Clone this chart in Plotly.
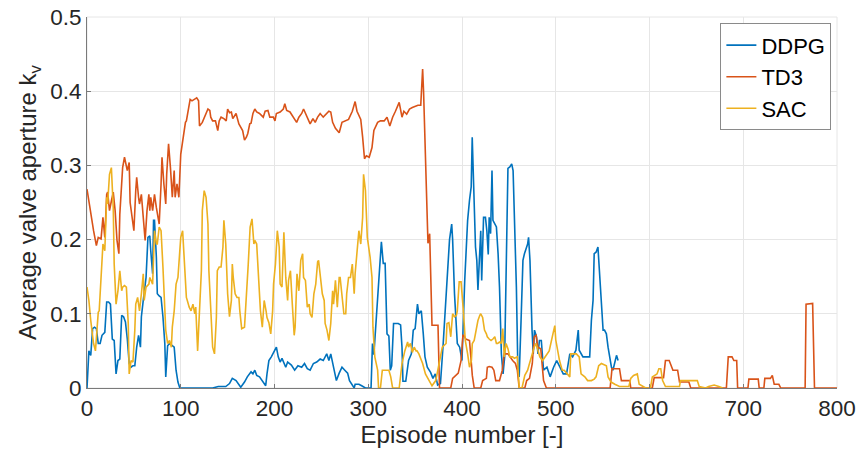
import plotly.graph_objects as go

# ---------------- data ----------------
td3_ep = [0,3,5,7,10,12,15,17,19,21,22,24,26,28,30,32,34,35,38,40,43,45,46,48,50,52,53,55,56,58,60,62,64,66,67,68,70,72,74,77,79,80,82,84,85,87,89,91,93,94,96,98,
          100,103,105,106,108,110,112,115,117,119,120,123,125,129,131,132,134,137,139.5,141,143,146,148.5,150,152,154,155.5,157,159,162,164.6,166,168,170,171.5,173.6,175,177,179,181,184,188,190,193,195,198.8,
          200.5,202,206,209.4,211,213,216.5,220,223.6,226,229,231,234.5,238,241,243.4,246,248.7,252,255.7,258,260,262,265,269,272,276,279,283,286,288,292,294,296,298,
          301,304,306,310,313,317,320,323,326,329,333,336,338,341,344,347,350,353,356,358,359,361,363.7,365.5,368,374.4,376,388,390,396,399,
          401,402,404,408,410,411,413,420,422,426,427,429,432,434,436,440,443,445,449,452,454,457,459,461,467,469,472,475,477,479,481,484,487,490,
          536,558,560,568,570,579,580,603,605,615,617,621,625,630,632,642,644,682,684,688,690,693,694,705,706,716,717,722,723,729,731,733,738,740,766,767,774,776,800]
td3_kv = [0.268,0.243,0.23,0.212,0.192,0.203,0.201,0.23,0.203,0.261,0.264,0.239,0.252,0.264,0.239,0.199,0.181,0.234,0.297,0.311,0.293,0.304,0.25,0.23,0.212,0.266,0.284,0.257,0.248,0.261,0.23,0.199,0.239,0.261,0.239,0.257,0.239,0.261,0.243,0.221,0.275,0.311,0.275,0.248,0.288,0.329,0.297,0.257,0.293,0.257,0.275,0.257,
          0.315,0.342,0.358,0.36,0.373,0.389,0.387,0.389,0.391,0.387,0.353,0.358,0.365,0.376,0.374,0.365,0.36,0.36,0.347,0.36,0.365,0.363,0.36,0.376,0.371,0.372,0.363,0.366,0.37,0.356,0.349,0.347,0.334,0.338,0.343,0.356,0.357,0.37,0.376,0.372,0.37,0.365,0.373,0.374,0.365,0.365,
          0.36,0.37,0.372,0.376,0.383,0.374,0.372,0.365,0.358,0.365,0.37,0.376,0.365,0.356,0.363,0.358,0.365,0.37,0.365,0.37,0.373,0.372,0.358,0.35,0.344,0.358,0.36,0.362,0.373,0.386,0.373,0.362,0.338,0.309,0.313,
          0.311,0.324,0.347,0.358,0.36,0.36,0.365,0.353,0.365,0.373,0.385,0.365,0.373,0.369,0.376,0.378,0.38,0.381,0.381,0.43,0.40,0.306,0.195,0.208,0.0845,0.0845,0.0,0.0,0.013,0.02,0.037,
          0.071,0.071,0.066,0.064,0.033,0.017,0.0,0.0,0.01,0.013,0.028,0.029,0.028,0.024,0.01,0.01,0.024,0.046,0.046,0.04,0.037,0.033,0.024,0.0,0.0,0.01,0.013,0.033,0.069,0.071,0.055,0.053,0.01,0.0,
          0.0,0.0,0.026,0.026,0.01,0.01,0.0,0.0,0.014,0.014,0.037,0.037,0.024,0.024,0.008,0.008,0.0,0.0,0.042,0.042,0.037,0.037,0.0,0.0,0.012,0.012,0.0,0.0,0.013,0.013,0.017,0.005,0.005,0.0,0.0,0.113,0.114,0.0,0.0]

ddpg_ep = [0,2,4,6,8,10,12,14,16,19,21,23,25,27,29,31,33,35,37,39,41,43,45,47,49,51,53,55,57,58,60,62,63,65,67,68,70,71,72,74,75,77,79,81,83,84,85,86,88,91,93,95,97,99,
           134,140,148,152,155,159,164,168,171,175,177,179,181,184,188,190.6,192,194,196.6,200,202,204,206,208,212,214,218,221.5,225,229,232,235,238,241.5,245,248.7,252,255.7,258,260,263,266,269,272,275,278,280,283,285,286,290,293,297,
           303,304.5,306,309,312,314,316,318,320,322,323.5,325,327,332,334.5,336,337,340,343,346,348,350,352.5,354,356.6,358.7,360.5,363,366.5,369,371.5,374,377,379.7,382,384,386.7,389,390,392,394,395,397.5,
           400,402.9,404.6,406,408,409.8,410.9,412,414.4,415.8,417,418.5,420,421,423,425,426.5,428,429,430.5,432,433,435,436.7,438.5,440,442,443.8,445.5,447.3,449,451,453,454.5,456,458,459.6,461,463,465,466.6,468,470,471,472.5,474.7,476,477.3,479.5,481,482.6,484.6,487,490.6,494,497.7,
           501,504.5,508,511.5,515,518,521.5,524,525,529,532,536.2,538,539.8,541,543,545,547,549,550.5,552,554,555.8,557.6,559.4,561,563,564.8,566.5]
ddpg_kv = [0.0,0.05,0.044,0.08,0.082,0.08,0.06,0.06,0.071,0.075,0.116,0.116,0.113,0.066,0.064,0.019,0.037,0.039,0.098,0.096,0.089,0.066,0.033,0.028,0.03,0.03,0.055,0.071,0.055,0.096,0.118,0.136,0.149,0.203,0.205,0.185,0.154,0.226,0.226,0.176,0.127,0.124,0.122,0.096,0.06,0.015,0.033,0.057,0.06,0.057,0.055,0.024,0.008,0.0,
           0.0,0.002,0.002,0.006,0.013,0.01,0.001,0.008,0.015,0.022,0.019,0.024,0.017,0.015,0.008,0.003,0.019,0.037,0.042,0.051,0.055,0.042,0.035,0.04,0.028,0.035,0.031,0.024,0.03,0.028,0.033,0.026,0.024,0.033,0.035,0.039,0.037,0.046,0.037,0.046,0.028,0.01,0.02,0.028,0.024,0.02,0.01,0.004,0.0,0.005,0.005,0.003,0.0,
           0.0,0.06,0.045,0.109,0.159,0.197,0.168,0.168,0.073,0.07,0.024,0.03,0.087,0.087,0.085,0.055,0.009,0.009,0.037,0.046,0.078,0.08,0.113,0.1,0.104,0.073,0.042,0.028,0.021,0.013,0.019,0.004,0.006,0.055,0.1,0.132,0.2,0.221,0.2,0.127,0.078,0.06,0.055,
           0.037,0.145,0.195,0.226,0.253,0.271,0.338,0.28,0.19,0.172,0.132,0.172,0.212,0.145,0.23,0.23,0.212,0.18,0.23,0.208,0.293,0.226,0.221,0.217,0.181,0.136,0.046,0.019,0.042,0.181,0.296,0.298,0.302,0.293,0.226,0.136,0.024,0.015,0.091,0.172,0.181,0.186,0.194,0.203,0.172,0.078,0.046,0.078,0.069,0.046,0.064,0.064,0.024,0.028,0.015,0.028,
           0.037,0.028,0.019,0.019,0.046,0.042,0.051,0.078,0.051,0.042,0.042,0.042,0.091,0.118,0.181,0.183,0.19,0.15,0.12,0.078,0.078,0.073,0.055,0.042,0.028,0.024,0.037,0.044,0.037]

sac_ep = [0,2,4,5,7,9,11,12,13,15,17,19,21,22,24,26,28,29,31,33,35,37,38,40,42,44,45,47,49,51,52,54,56,58,60,61,63,66,67,70,72,74,75,77,79,81,83,84,86,88,90,91,93,95,97,99,
          100,102,104,106,107,109,111,113,115,116,118,120,122,123,125,127,129,130,132,134,136,138,139,141,143,145,146,148,150,152,154,155,156,158,160,162,163,165,168,170,172,174,176,178,179,181,183,185,187,189,191,192,194,196,198,199,
          201,203,205,206,208,210,212,214,215,217,219,221,222,224,226,228,230,231,233,235,237,238,240,242,244,246,247,249,251,253,254,256,258,260,262,263,265,267,269,270,272,274,276,277,279,281,283,285,286,288,290,292,294,295,297,299,
          301,302,304,305,307,310,311,313,315,319,322,324,326,333,335,336,339,342,343,345,347,349,351,352,354,358,361,365,368,372,375,379,383,384,386,388,390,392,394,395,397,399,
          401.4,403.5,406,408,410,411,413,415,417,419,420,422,424,426,427,429,431,433,435,436.7,438,440,442,443.5,445,447,449,451,454,456,459,461,464,467,468,470,472,475,477,479,481,483,486,490,493,497,499,
          500,502,504,506,507,509,513,515,516,518,522,525,527,531,534,538,541,543,545.8,548.7,554,555.8,559,563,568,578,580,583,587,589,596,
          601,603,608,610,612,614,617,632,633,651,653,660,663,669,674,678]
sac_kv = [0.136,0.118,0.091,0.077,0.06,0.05,0.078,0.102,0.104,0.149,0.194,0.185,0.257,0.248,0.288,0.297,0.243,0.167,0.113,0.131,0.158,0.131,0.136,0.138,0.136,0.087,0.019,0.037,0.035,0.078,0.113,0.122,0.104,0.127,0.154,0.118,0.136,0.14,0.149,0.14,0.212,0.194,0.194,0.217,0.212,0.163,0.1,0.078,0.06,0.064,0.055,0.082,0.104,0.14,0.149,0.194,
          0.203,0.212,0.167,0.122,0.118,0.109,0.104,0.113,0.1,0.109,0.05,0.104,0.158,0.239,0.266,0.257,0.221,0.158,0.104,0.055,0.046,0.095,0.158,0.163,0.163,0.19,0.226,0.194,0.127,0.096,0.118,0.167,0.149,0.127,0.122,0.122,0.104,0.08,0.082,0.118,0.167,0.217,0.228,0.194,0.199,0.194,0.149,0.104,0.082,0.118,0.104,0.095,0.088,0.073,0.104,0.14,
          0.167,0.212,0.19,0.14,0.136,0.21,0.149,0.118,0.145,0.158,0.113,0.071,0.082,0.154,0.131,0.172,0.181,0.149,0.145,0.109,0.113,0.1,0.095,0.127,0.14,0.17,0.172,0.149,0.127,0.118,0.087,0.078,0.064,0.087,0.131,0.113,0.145,0.109,0.149,0.149,0.122,0.1,0.1,0.127,0.149,0.149,0.167,0.127,0.154,0.19,0.212,0.194,0.23,0.288,0.266,0.203,
          0.185,0.176,0.149,0.082,0.042,0.024,0.0,0.0,0.024,0.024,0.024,0.015,0.0,0.0,0.019,0.033,0.05,0.062,0.055,0.06,0.048,0.055,0.05,0.05,0.046,0.033,0.019,0.01,0.003,0.01,0.028,0.055,0.06,0.087,0.088,0.069,0.1,0.096,0.098,0.104,0.143,0.143,
          0.105,0.064,0.046,0.028,0.037,0.06,0.064,0.08,0.091,0.098,0.1,0.095,0.078,0.073,0.069,0.066,0.064,0.066,0.069,0.06,0.06,0.062,0.06,0.08,0.042,0.06,0.053,0.042,0.042,0.04,0.042,0.0,0.0,0.017,0.02,0.024,0.033,0.046,0.055,0.06,0.05,0.042,0.037,0.044,0.05,0.073,0.084,
          0.065,0.05,0.037,0.028,0.024,0.024,0.017,0.015,0.046,0.046,0.046,0.042,0.019,0.015,0.01,0.01,0.012,0.015,0.03,0.033,0.03,0.015,0.008,0.005,0.002,0.002,0.013,0.017,0.019,0.005,0.0,
          0.0,0.015,0.019,0.026,0.026,0.01,0.002,0.002,0.01,0.01,0.002,0.0,0.002,0.004,0.002,0.0]

series_names = ["DDPG", "TD3", "SAC"]
series_colors = ["#0072BD", "#D95319", "#EDB120"]
x_ticks = [0, 100, 200, 300, 400, 500, 600, 700, 800]
y_ticks = [0, 0.1, 0.2, 0.3, 0.4, 0.5]
y_tick_text = ["0", "0.1", "0.2", "0.3", "0.4", "0.5"]

# ---------------- figure ----------------
fig = go.Figure()
for name, color, xs, ys in zip(series_names, series_colors,
                               [ddpg_ep, td3_ep, sac_ep],
                               [ddpg_kv, td3_kv, sac_kv]):
    fig.add_trace(go.Scatter(x=xs, y=ys, mode="lines", name=name,
                             line=dict(color=color, width=1.6)))

font_family = "Liberation Sans, Arial, Helvetica, sans-serif"
axis_common = dict(
    showgrid=True, gridcolor="#e6e6e6", gridwidth=1,
    showline=True, linecolor="#7a7a7a", linewidth=1,
    ticks="inside", ticklen=4, tickcolor="#7a7a7a",
    zeroline=False, mirror=False, automargin=False,
    tickfont=dict(family=font_family, size=22.5, color="#262626"),
)

fig.update_layout(
    width=860, height=455,
    margin=dict(l=87, r=23, t=17, b=67),
    paper_bgcolor="white", plot_bgcolor="white",
    font=dict(family=font_family, color="#262626"),
    showlegend=True,
    legend=dict(
        x=0.9925, y=0.983, xanchor="right", yanchor="top",
        bgcolor="white", bordercolor="#8a8a8a", borderwidth=1,
        font=dict(family=font_family, size=22, color="#000000"),
        itemwidth=30, tracegroupgap=0,
    ),
    xaxis=dict(
        range=[0, 800], tickvals=x_ticks,
        title=dict(text="Episode number [-]", standoff=2,
                   font=dict(family=font_family, size=24, color="#262626")),
        **axis_common,
    ),
    yaxis=dict(
        range=[0, 0.5], tickvals=y_ticks, ticktext=y_tick_text,
        title=dict(text="Average valve aperture k<sub>v</sub>", standoff=6,
                   font=dict(family=font_family, size=24, color="#262626")),
        **axis_common,
    ),
)

# light frame on the top/right like the reference grid frame
fig.add_shape(type="rect", xref="paper", yref="paper", x0=0, y0=0, x1=1, y1=1,
              line=dict(color="#e6e6e6", width=1), layer="below")

fig.write_html("out.html")
